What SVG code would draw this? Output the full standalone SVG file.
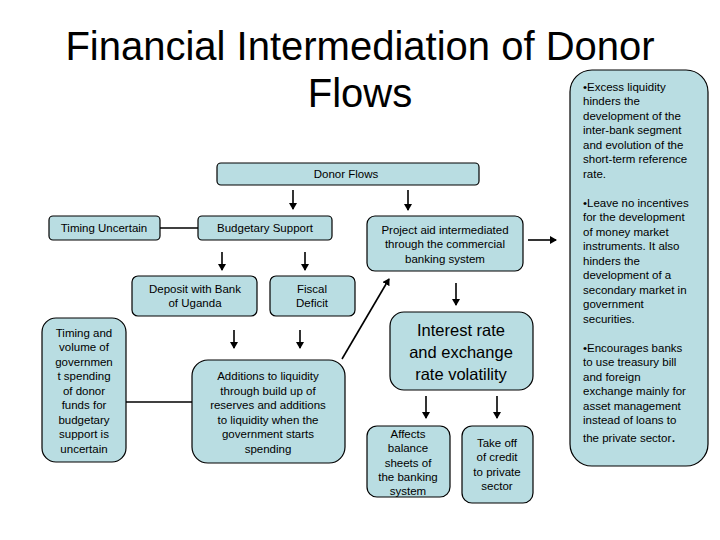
<svg xmlns="http://www.w3.org/2000/svg" width="720" height="540" viewBox="0 0 720 540">
<defs>
<style>
.b{fill:#b9dde2;stroke:#000;stroke-width:1.2}
text{font-family:"Liberation Sans",Arial,sans-serif;fill:#000}
.t{font-size:11.5px;text-anchor:middle}
.l{font-size:11.5px}
.c line{stroke:#000;stroke-width:1.6}
</style>
<marker id="a" markerWidth="8" markerHeight="8" refX="6" refY="4" orient="auto" markerUnits="userSpaceOnUse"><path d="M0,0L7,4L0,8z" fill="#000"/></marker>
</defs>
<rect width="720" height="540" fill="#fff"/>
<text x="360" y="60" font-size="40" text-anchor="middle">Financial Intermediation of Donor</text>
<text x="360" y="107" font-size="40" text-anchor="middle">Flows</text>
<g class="c">
<line x1="293" y1="190" x2="293" y2="209" marker-end="url(#a)"/>
<line x1="408" y1="190" x2="408" y2="210" marker-end="url(#a)"/>
<line x1="160" y1="228" x2="198" y2="228"/>
<line x1="222" y1="252" x2="222" y2="270" marker-end="url(#a)"/>
<line x1="305" y1="252" x2="305" y2="270" marker-end="url(#a)"/>
<line x1="234" y1="330" x2="234" y2="348" marker-end="url(#a)"/>
<line x1="300" y1="330" x2="300" y2="348" marker-end="url(#a)"/>
<line x1="126" y1="402" x2="192" y2="402"/>
<line x1="342" y1="359" x2="389" y2="279" marker-end="url(#a)"/>
<line x1="528" y1="240" x2="556" y2="240" marker-end="url(#a)"/>
<line x1="456" y1="283" x2="456" y2="305" marker-end="url(#a)"/>
<line x1="426" y1="396" x2="426" y2="418" marker-end="url(#a)"/>
<line x1="497" y1="396" x2="497" y2="418" marker-end="url(#a)"/>
</g>
<g id="right"><rect class="b" x="570" y="70" width="138" height="396" rx="22"/>
<text class="l" x="583"><tspan x="583" y="91">•Excess liquidity</tspan><tspan x="583" y="105">hinders the</tspan><tspan x="583" y="120">development of the</tspan><tspan x="583" y="134">inter-bank segment</tspan><tspan x="583" y="149">and evolution of the</tspan><tspan x="583" y="163">short-term reference</tspan><tspan x="583" y="178">rate.</tspan>
<tspan x="583" y="207">•Leave no incentives</tspan><tspan x="583" y="221">for the development</tspan><tspan x="583" y="236">of money market</tspan><tspan x="583" y="250">instruments.  It also</tspan><tspan x="583" y="265">hinders the</tspan><tspan x="583" y="279">development of a</tspan><tspan x="583" y="294">secondary market in</tspan><tspan x="583" y="308">government</tspan><tspan x="583" y="323">securities.</tspan>
<tspan x="583" y="352">•Encourages banks</tspan><tspan x="583" y="366">to use treasury bill</tspan><tspan x="583" y="381">and foreign</tspan><tspan x="583" y="395">exchange mainly for</tspan><tspan x="583" y="410">asset management</tspan><tspan x="583" y="424">instead of loans to</tspan><tspan x="583" y="442">the private sector<tspan font-size="16">.</tspan></tspan></text></g>
<g id="donor"><rect class="b" x="217" y="163" width="262" height="22" rx="4"/><text class="t" x="346" y="178">Donor Flows</text></g>
<g id="timing"><rect class="b" x="49" y="216" width="111" height="24" rx="4"/><text class="t" x="104" y="232">Timing Uncertain</text></g>
<g id="budget"><rect class="b" x="198" y="216" width="134" height="24" rx="4"/><text class="t" x="265" y="232">Budgetary Support</text></g>
<g id="project"><rect class="b" x="367" y="216" width="156" height="55" rx="8"/><text class="t"><tspan x="445" y="234">Project aid intermediated</tspan><tspan x="445" y="248">through the commercial</tspan><tspan x="445" y="263">banking system</tspan></text></g>
<g id="deposit"><rect class="b" x="132" y="276" width="125" height="40" rx="6"/><text class="t"><tspan x="195" y="293">Deposit with Bank</tspan><tspan x="195" y="307">of Uganda</tspan></text></g>
<g id="fiscal"><rect class="b" x="270" y="276" width="85" height="40" rx="6"/><text class="t"><tspan x="312" y="293">Fiscal</tspan><tspan x="312" y="307">Deficit</tspan></text></g>
<g id="volume"><rect class="b" x="42" y="318" width="84" height="144" rx="14"/><text class="t"><tspan x="84" y="337">Timing and</tspan><tspan x="84" y="351">volume of</tspan><tspan x="84" y="366">governmen</tspan><tspan x="84" y="380">t spending</tspan><tspan x="84" y="395">of donor</tspan><tspan x="84" y="409">funds for</tspan><tspan x="84" y="424">budgetary</tspan><tspan x="84" y="438">support is</tspan><tspan x="84" y="453">uncertain</tspan></text></g>
<g id="additions"><rect class="b" x="192" y="360" width="153" height="103" rx="16"/><text class="t"><tspan x="268" y="380">Additions to liquidity</tspan><tspan x="268" y="395">through build up of</tspan><tspan x="268" y="409">reserves and additions</tspan><tspan x="268" y="424">to liquidity when the</tspan><tspan x="268" y="438">government starts</tspan><tspan x="268" y="453">spending</tspan></text></g>
<g id="interest"><rect class="b" x="390" y="312" width="143" height="78" rx="14"/><text text-anchor="middle" font-size="16.5"><tspan x="461" y="336">Interest rate</tspan><tspan x="461" y="358">and exchange</tspan><tspan x="461" y="380">rate volatility</tspan></text></g>
<g id="affects"><rect class="b" x="367" y="426" width="83" height="71" rx="10"/><text class="t"><tspan x="408" y="438">Affects</tspan><tspan x="408" y="452">balance</tspan><tspan x="408" y="467">sheets of</tspan><tspan x="408" y="481">the banking</tspan><tspan x="408" y="495">system</tspan></text></g>
<g id="takeoff"><rect class="b" x="462" y="426" width="71" height="77" rx="10"/><text class="t"><tspan x="497" y="447">Take off</tspan><tspan x="497" y="461">of credit</tspan><tspan x="497" y="476">to private</tspan><tspan x="497" y="490">sector</tspan></text></g>
</svg>
